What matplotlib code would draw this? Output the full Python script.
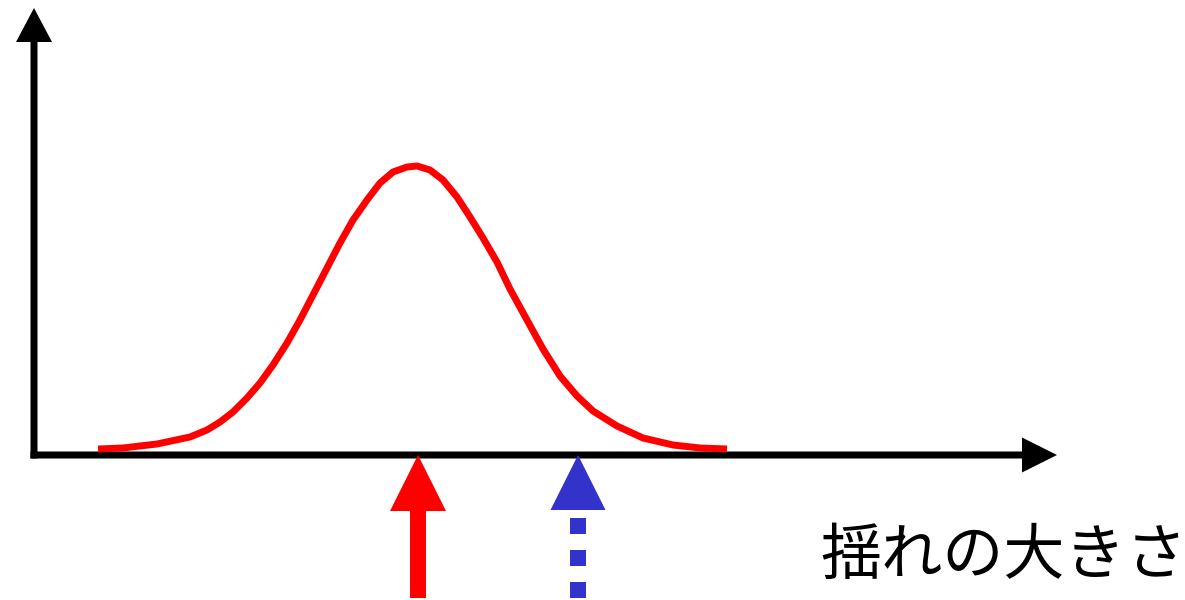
import numpy as np
import matplotlib
matplotlib.use("Agg")
import matplotlib.pyplot as plt
from matplotlib.patches import FancyArrow

plt.rcParams['font.family'] = ['Noto Sans CJK JP', 'DejaVu Sans']

# -----------------------------
# Values (origin = axis corner)
# -----------------------------
curve_x = [64, 89, 123, 156, 173, 186, 199, 213, 226, 239, 253, 266, 279,
           293, 306, 319, 333, 346, 359, 373, 383, 396, 409, 423, 436, 449,
           463, 476, 493, 509, 526, 543, 559, 583, 609, 639, 666, 693]
curve_y = [6, 7, 11, 18, 25, 33, 43, 57, 72, 90, 112, 135, 160,
           187, 212, 235, 255, 272, 283, 288, 289, 285, 275, 258, 238, 217,
           193, 166, 135, 106, 79, 59, 44, 29, 17, 10, 7, 6]

red_pos = 384
blue_pos = 544
x_label = "揺れの大きさ"

# -----------------------------
# Figure
# -----------------------------
fig = plt.figure(figsize=(11.85, 6.0), dpi=100)
ax = fig.add_axes([0, 0, 1, 1])
ax.set_xlim(-34, 1151)
ax.set_ylim(-145, 455)
ax.axis("off")

# axes with arrow heads
ax.add_patch(FancyArrow(0, -3.5, 0, 450.5, width=7, head_width=36,
                        head_length=34, length_includes_head=True,
                        color="black", lw=0))
ax.add_patch(FancyArrow(-3.5, 0, 1026.5, 0, width=7, head_width=35,
                        head_length=35, length_includes_head=True,
                        color="black", lw=0))

# distribution curve
ax.plot(curve_x, curve_y, color="#ff0000", lw=5.0,
        solid_capstyle="butt", solid_joinstyle="round")

# red arrow (solid)
ax.add_patch(FancyArrow(red_pos, -143, 0, 143, width=16, head_width=56,
                        head_length=56, length_includes_head=True,
                        color="#ff0000", lw=0))

# blue arrow (dotted shaft)
ax.add_patch(FancyArrow(blue_pos, -55, 0, 55, width=0.01, head_width=55,
                        head_length=55, length_includes_head=True,
                        color="#3333cc", lw=0))
ax.plot([blue_pos, blue_pos], [-63, -143], color="#3333cc", lw=11.52,
        dashes=(1, 1), dash_capstyle="butt", solid_capstyle="butt")

ax.text(786, -102, x_label, fontsize=44, ha="left", va="center",
        color="black")

fig.savefig("out.png", dpi=100)
